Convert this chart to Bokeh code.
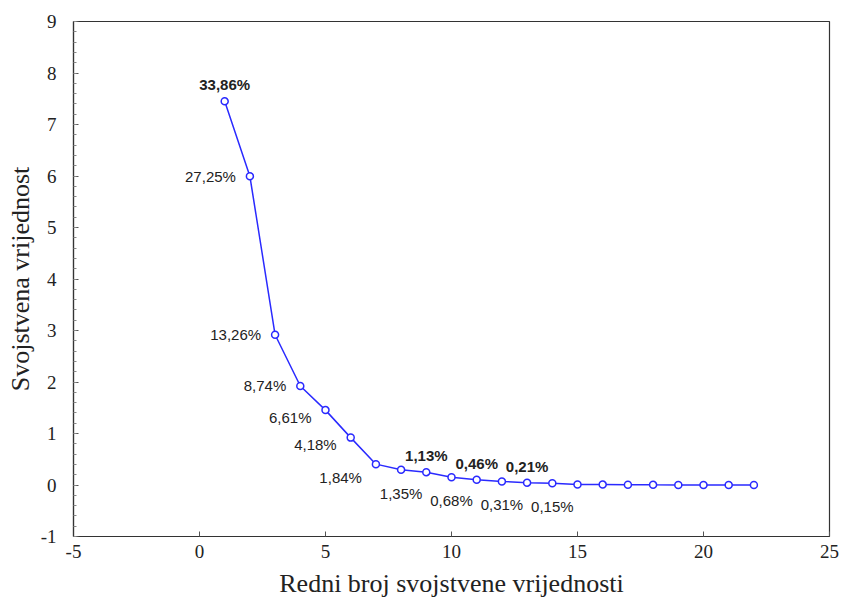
from bokeh.plotting import figure
from bokeh.models import Range1d, SingleIntervalTicker, ColumnDataSource, PrintfTickFormatter
from bokeh.embed import file_html
from bokeh.resources import INLINE
from bokeh.core.properties import value

# ---- data ----
component = list(range(1, 23))
eigenvalue = [7.45, 5.995, 2.917, 1.923, 1.454, 0.920, 0.405, 0.297, 0.249, 0.150,
              0.101, 0.068, 0.046, 0.033, 0.012, 0.008, 0.005, 0.003, 0.002, 0.001,
              0.001, 0.0]
pct_labels = ["33,86%", "27,25%", "13,26%", "8,74%", "6,61%", "4,18%", "1,84%",
              "1,35%", "1,13%", "0,68%", "0,46%", "0,31%", "0,21%", "0,15%"]

x_title = "Redni broj svojstvene vrijednosti"
y_title = "Svojstvena vrijednost"

p = figure(width=842, height=600, output_backend="svg", toolbar_location=None,
           x_range=Range1d(-5, 25), y_range=Range1d(-1, 9),
           min_border_left=73, min_border_right=13, min_border_top=21, min_border_bottom=62)
p.background_fill_color = "white"
p.border_fill_color = "white"
p.outline_line_color = "#333333"
p.outline_line_width = 1.2
p.xgrid.visible = False
p.ygrid.visible = False

p.xaxis.ticker = SingleIntervalTicker(interval=5, num_minor_ticks=0)
p.yaxis.ticker = SingleIntervalTicker(interval=1, num_minor_ticks=5)
p.xaxis.formatter = PrintfTickFormatter(format="%d")
p.yaxis.formatter = PrintfTickFormatter(format="%d")

for ax in (p.xaxis[0], p.yaxis[0]):
    ax.axis_line_color = "#333333"
    ax.axis_line_width = 1.2
    ax.major_tick_in = 5
    ax.major_tick_out = 0
    ax.minor_tick_in = 3
    ax.minor_tick_out = 0
    ax.major_tick_line_color = "#555555"
    ax.minor_tick_line_color = "#888888"
    ax.major_label_text_font = "Liberation Serif"
    ax.major_label_text_font_size = "19px"
    ax.major_label_text_color = "#222222"
    ax.axis_label_text_font = "Liberation Serif"
    ax.axis_label_text_font_size = "26px"
    ax.axis_label_text_font_style = "normal"
    ax.axis_label_text_color = "#222222"

p.xaxis.minor_tick_line_color = None
p.xaxis.major_label_standoff = 8
p.yaxis.major_label_standoff = 17
p.xaxis.axis_label = x_title
p.yaxis.axis_label = y_title
p.xaxis.axis_label_standoff = 8
p.yaxis.axis_label_standoff = 3

src = ColumnDataSource(dict(x=component, y=eigenvalue))
p.line("x", "y", source=src, line_color="#2a2aff", line_width=1.5)
p.scatter("x", "y", source=src, size=7, marker="circle", fill_color="white",
          line_color="#2a2aff", line_width=1.5)

# label groups
above_idx = [0, 8, 10, 12]
below_idx = [7, 9, 11, 13]
left_idx = [1, 2, 3, 4, 5, 6]
left_dy = [0, 0, 0, 7, 7, 13]

font = value("Liberation Sans")
p.text(x=[component[i] for i in above_idx], y=[eigenvalue[i] for i in above_idx],
       text=[pct_labels[i] for i in above_idx], text_font=font, text_font_size="15px",
       text_color="#222222", text_align="center", text_baseline="bottom",
       y_offset=-8, text_font_style="bold")
p.text(x=[component[i] for i in below_idx], y=[eigenvalue[i] for i in below_idx],
       text=[pct_labels[i] for i in below_idx], text_font=font, text_font_size="15px",
       text_color="#222222", text_align="center", text_baseline="top",
       y_offset=15)
p.text(x=[component[i] for i in left_idx], y=[eigenvalue[i] for i in left_idx],
       text=[pct_labels[i] for i in left_idx], text_font=font, text_font_size="15px",
       text_color="#222222", text_align="right", text_baseline="middle",
       x_offset=-14, y_offset=left_dy)

open("out.html", "w").write(file_html(p, INLINE))
